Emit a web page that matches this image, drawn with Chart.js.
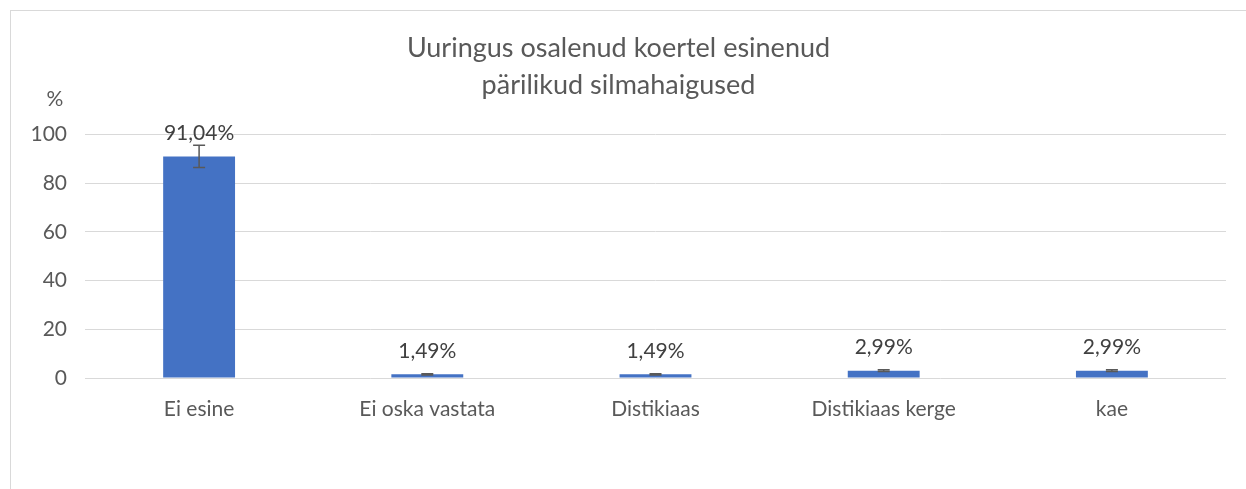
<!DOCTYPE html>
<html lang="et">
<head>
    <meta charset="UTF-8">
    <title>Pärilikud silmahaigused</title>
    <script src="https://cdn.jsdelivr.net/npm/chart.js"></script>
    <style>
        body {
            margin: 0;
            background: #fff;
            overflow: hidden;
        }
        #chartBox {
            position: absolute;
            left: 10px;
            top: 10px;
            width: 1252px;
            height: 500px;
            border: 1px solid #d9d9d9;
        }
    </style>
</head>
<body>
    <div id="chartBox">
        <canvas id="eyeChart"></canvas>
    </div>

    <script>
        const categories = ['Ei esine', 'Ei oska vastata', 'Distikiaas', 'Distikiaas kerge', 'kae'];
        const percents = [91.04, 1.49, 1.49, 2.99, 2.99];
        const errors = [4.6, 0.3, 0.3, 0.35, 0.35];
        const yTicks = [0, 20, 40, 60, 80, 100];

        const textColor = '#595959';
        const fontFamily = 'Lato, "Open Sans", sans-serif';

        // error bars + value labels, drawn from the scales
        const extrasPlugin = {
            id: 'extras',
            afterDatasetsDraw(chart) {
                const ctx = chart.ctx;
                const x = chart.scales.x;
                const y = chart.scales.y;
                ctx.save();
                ctx.strokeStyle = '#595959';
                ctx.lineWidth = 1.5;
                percents.forEach((v, i) => {
                    const cx = x.getPixelForValue(i);
                    const top = y.getPixelForValue(v + errors[i]);
                    const bot = y.getPixelForValue(v - errors[i]);
                    ctx.beginPath();
                    ctx.moveTo(cx, top);
                    ctx.lineTo(cx, bot);
                    ctx.moveTo(cx - 6, top);
                    ctx.lineTo(cx + 6, top);
                    ctx.moveTo(cx - 6, bot);
                    ctx.lineTo(cx + 6, bot);
                    ctx.stroke();
                });
                ctx.fillStyle = '#404040';
                ctx.font = '21px ' + fontFamily;
                ctx.textAlign = 'center';
                ctx.textBaseline = 'middle';
                percents.forEach((v, i) => {
                    const cx = x.getPixelForValue(i);
                    const barTop = y.getPixelForValue(v);
                    ctx.fillText(v.toFixed(2).replace('.', ',') + '%', cx, barTop - 23);
                });
                // unit label above the value axis
                ctx.fillStyle = textColor;
                ctx.fillText('%', y.right - 30, y.top - 35);
                ctx.restore();
            }
        };

        new Chart(document.getElementById('eyeChart'), {
            type: 'bar',
            data: {
                labels: categories,
                datasets: [{
                    data: percents,
                    backgroundColor: '#4472C4',
                    barPercentage: 0.63,
                    categoryPercentage: 0.5
                }]
            },
            options: {
                responsive: true,
                maintainAspectRatio: false,
                animation: false,
                layout: {
                    padding: { left: 0, right: 37, top: 0, bottom: 0 }
                },
                plugins: {
                    legend: { display: false },
                    tooltip: { enabled: false },
                    title: {
                        display: true,
                        text: ['Uuringus osalenud koertel esinenud', 'pärilikud silmahaigused'],
                        color: textColor,
                        font: { family: fontFamily, size: 27, weight: 'normal', lineHeight: 1.4 },
                        padding: { top: 18, bottom: 30 }
                    }
                },
                scales: {
                    x: {
                        grid: { display: false },
                        border: { display: false },
                        ticks: {
                            color: textColor,
                            font: { family: fontFamily, size: 21 },
                            padding: 11
                        },
                        afterFit(scale) { scale.height = 133; }
                    },
                    y: {
                        min: 0,
                        max: 100,
                        afterBuildTicks(scale) {
                            scale.ticks = yTicks.map(v => ({ value: v }));
                        },
                        grid: { color: '#d9d9d9', lineWidth: 1, drawTicks: false },
                        border: { display: false },
                        ticks: {
                            color: textColor,
                            font: { family: fontFamily, size: 21 },
                            padding: 18
                        },
                        afterFit(scale) { scale.width = 74; }
                    }
                }
            },
            plugins: [extrasPlugin]
        });
    </script>
</body>
</html>
